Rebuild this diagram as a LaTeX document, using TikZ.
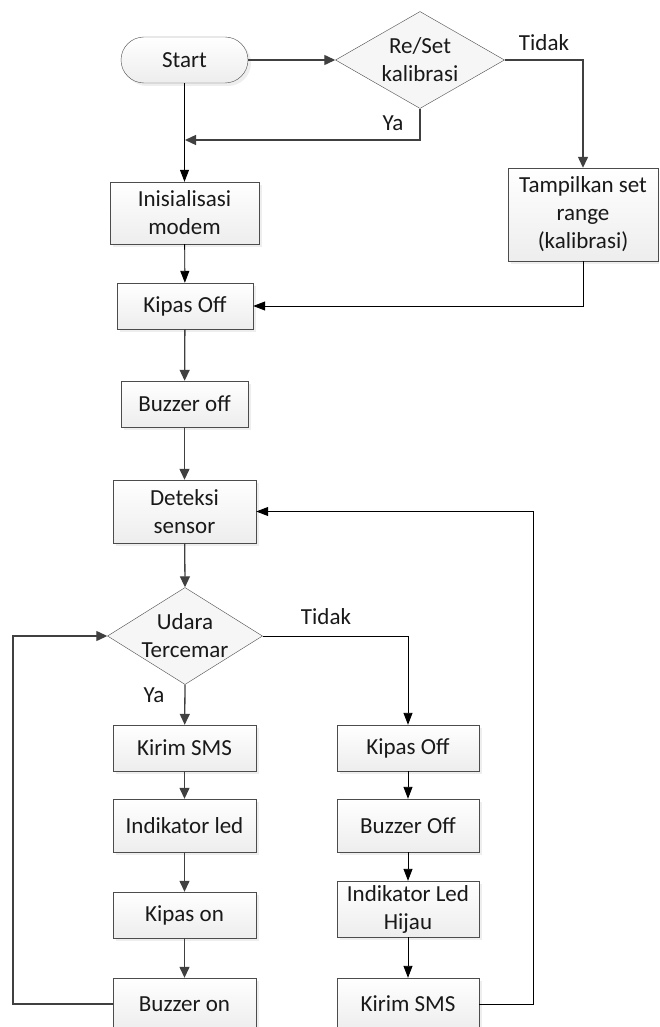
\documentclass[tikz,border=0pt]{standalone}
\usepackage{fontspec}
\setmainfont{Carlito}
\usetikzlibrary{arrows.meta,shapes.geometric,shadows}

\begin{document}
\begin{tikzpicture}[x=1pt,y=-1pt,
		box/.style={rectangle,draw=black!70,top color=white,bottom color=gray!14,
			drop shadow={shadow xshift=3pt,shadow yshift=-3pt,fill=gray!25},
			minimum height=46pt,inner sep=2pt,text=black!90,align=center,
			font=\fontsize{23}{28}\selectfont},
		term/.style={box,rounded corners=23pt},
		dec/.style={diamond,draw=black!70,fill=gray!7,inner sep=0pt},
		dectext/.style={text=black!90,align=center,font=\fontsize{23}{28}\selectfont},
		lbl/.style={text=black!90,font=\fontsize{23}{28}\selectfont},
		flow/.style={draw=black!75,line width=1.3pt,-{Triangle[length=11pt,width=10pt]}},
		flowthin/.style={draw=black,line width=0.9pt,-{Triangle[length=12pt,width=9pt]}}]
	\useasboundingbox (0,0) rectangle (659,1027);
	\fill[white] (0,0) rectangle (659,1027);
	\clip (0,0) rectangle (659,1027);

	% awal
	\node[term,minimum width=127pt] (start) at (184.5,60) {Start};
	\node[dec,minimum width=169pt,minimum height=97pt] (kal) at (420,60) {};
	\node[dectext] (kaltxt) at (kal) {Re/Set\\kalibrasi};
	\node[box,minimum width=149pt,minimum height=62pt] (init) at (184.5,213) {Inisialisasi\\modem};
	\node[box,minimum width=150pt,minimum height=93pt] (tampil) at (583,214.5) {Tampilkan set\\range\\(kalibrasi)};
	\node[box,minimum width=136pt] (kipas1) at (185,306) {Kipas Off};
	\node[box,minimum width=127pt] (buzz1) at (184.5,404) {Buzzer off};
	\node[box,minimum width=143pt,minimum height=63pt] (deteksi) at (184.5,511.5) {Deteksi\\sensor};
	\node[dec,minimum width=155pt,minimum height=97pt] (udara) at (185,636) {};
	\node[dectext] (udaratxt) at (udara) {Udara\\Tercemar};

	% cabang ya
	\node[box,minimum width=143pt] (sms1) at (184.5,748) {Kirim SMS};
	\node[box,minimum width=143pt,minimum height=53pt] (led1) at (184.5,825.5) {Indikator led};
	\node[box,minimum width=143pt] (kipas2) at (184.5,915) {Kipas on};
	\node[box,minimum width=143pt,minimum height=52pt] (buzz2) at (184.5,1004) {Buzzer on};

	% cabang tidak
	\node[box,minimum width=142pt] (kipas3) at (408,748) {Kipas Off};
	\node[box,minimum width=142pt,minimum height=53pt] (buzz3) at (408,825.5) {Buzzer Off};
	\node[box,minimum width=142pt,minimum height=56pt] (ledh) at (408,909) {Indikator Led\\Hijau};
	\node[box,minimum width=142pt,minimum height=52pt] (sms2) at (408,1004) {Kirim SMS};

	\coordinate (ya1) at (185,140);
	\coordinate (lp) at (13,636);
	\coordinate (rp) at (533,511.5);

	\draw[flow] (start) -- (kal);
	\draw[flow] (kal.east) -| (tampil.north);
	\draw[flow] (kal.south) |- (ya1);
	\draw[flowthin] (start) -- (init);
	\draw[flowthin] (init) -- (kipas1);
	\draw[flowthin] (tampil.south) |- (kipas1.east);
	\draw[flow] (kipas1) -- (buzz1);
	\draw[flow] (buzz1) -- (deteksi);
	\draw[flow] (deteksi) -- (udara.north);
	\draw[flow] (udara.south) -- (sms1);
	\draw[flowthin] (udara.east) -| (kipas3.north);
	\draw[flow] (sms1) -- (led1);
	\draw[flow] (led1) -- (kipas2);
	\draw[flow] (kipas2) -- (buzz2);
	\draw[flow] (buzz2.west) -| (lp) -- (udara.west);
	\draw[flowthin] (kipas3) -- (buzz3);
	\draw[flowthin] (buzz3) -- (ledh);
	\draw[flowthin] (ledh) -- (sms2);
	\draw[flowthin] (sms2.east) -| (rp) -- (deteksi.east);

	% label
	\node[lbl] (tidak1) at (544,43) {Tidak};
	\node[lbl] (ya1lbl) at (393,123) {Ya};
	\node[lbl] (tidak2) at (326,617) {Tidak};
	\node[lbl] (ya2lbl) at (154,695) {Ya};
\end{tikzpicture}
\end{document}
